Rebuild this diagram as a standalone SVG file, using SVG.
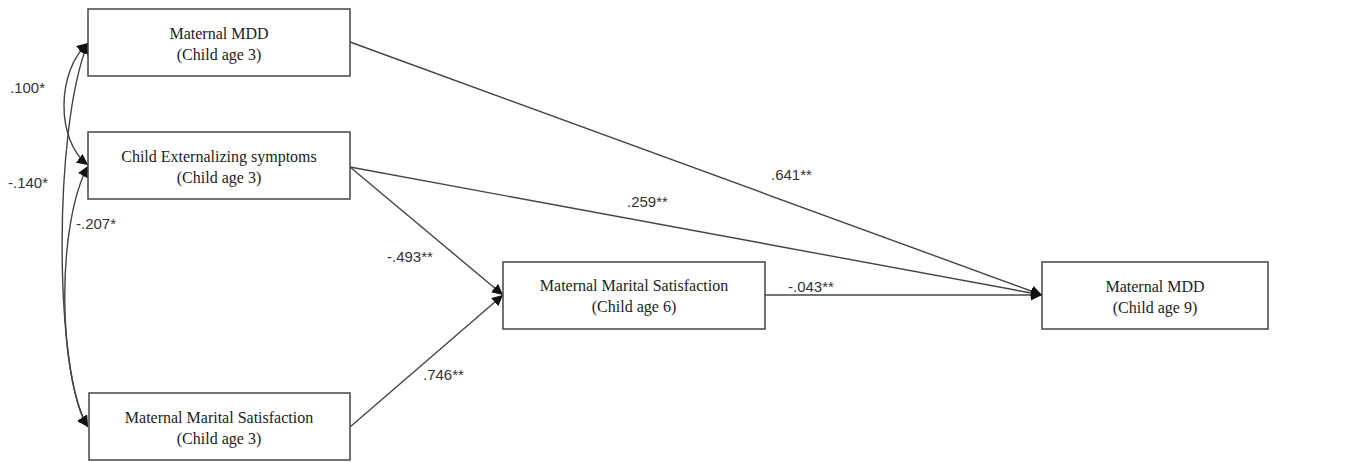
<svg xmlns="http://www.w3.org/2000/svg" width="1355" height="462" viewBox="0 0 1355 462">
<defs>
<style>
.box{fill:#fff;stroke:#444;stroke-width:1.5}
.nt{font-family:"Liberation Serif",serif;font-size:16px;fill:#222;text-anchor:middle}
.lb{font-family:"Liberation Sans",Arial,sans-serif;font-size:15px;fill:#333}
.ln{fill:none;stroke:#444;stroke-width:1.4}
</style>
<marker id="ah" viewBox="0 0 10 10" refX="10" refY="5" markerWidth="11" markerHeight="11" markerUnits="userSpaceOnUse" orient="auto-start-reverse">
<path d="M0,0 L10,5 L0,10 z" fill="#111"/>
</marker>
</defs>
<rect width="1355" height="462" fill="#fff"/>
<g id="connectors">
<line class="ln" x1="350" y1="42" x2="1042" y2="295" marker-end="url(#ah)"/>
<line class="ln" x1="350" y1="167" x2="1042" y2="295" marker-end="url(#ah)"/>
<line class="ln" x1="350" y1="167" x2="503" y2="295" marker-end="url(#ah)"/>
<line class="ln" x1="350" y1="427" x2="503" y2="295" marker-end="url(#ah)"/>
<line class="ln" x1="765" y1="295" x2="1042" y2="295" marker-end="url(#ah)"/>
<path class="ln" d="M88,43 C57,70 55,140 88,165" marker-start="url(#ah)" marker-end="url(#ah)"/>
<path class="ln" d="M88,43 C52,130 55,380 88,427" marker-start="url(#ah)" marker-end="url(#ah)"/>
<path class="ln" d="M88,166 C56,225 58,375 88,427" marker-start="url(#ah)" marker-end="url(#ah)"/>
<text class="lb" x="10" y="93">.100*</text>
<text class="lb" x="8" y="188">-.140*</text>
<text class="lb" x="76" y="229">-.207*</text>
<text class="lb" x="387" y="262">-.493**</text>
<text class="lb" x="423" y="380">.746**</text>
<text class="lb" x="627" y="207">.259**</text>
<text class="lb" x="771" y="180">.641**</text>
<text class="lb" x="788" y="292">-.043**</text>
</g>
<g id="n1"><rect class="box" x="88" y="9" width="262" height="67"/><text class="nt" x="219" y="39">Maternal MDD</text><text class="nt" x="219" y="60">(Child age 3)</text></g>
<g id="n2"><rect class="box" x="88" y="132" width="262" height="67"/><text class="nt" x="219" y="162">Child Externalizing symptoms</text><text class="nt" x="219" y="183">(Child age 3)</text></g>
<g id="n3"><rect class="box" x="89" y="393" width="261" height="67"/><text class="nt" x="219" y="423">Maternal Marital Satisfaction</text><text class="nt" x="219" y="444">(Child age 3)</text></g>
<g id="n4"><rect class="box" x="503" y="262" width="262" height="67"/><text class="nt" x="634" y="291">Maternal Marital Satisfaction</text><text class="nt" x="634" y="312">(Child age 6)</text></g>
<g id="n5"><rect class="box" x="1042" y="262" width="226" height="67"/><text class="nt" x="1155" y="292">Maternal MDD</text><text class="nt" x="1155" y="313">(Child age 9)</text></g>
</svg>
